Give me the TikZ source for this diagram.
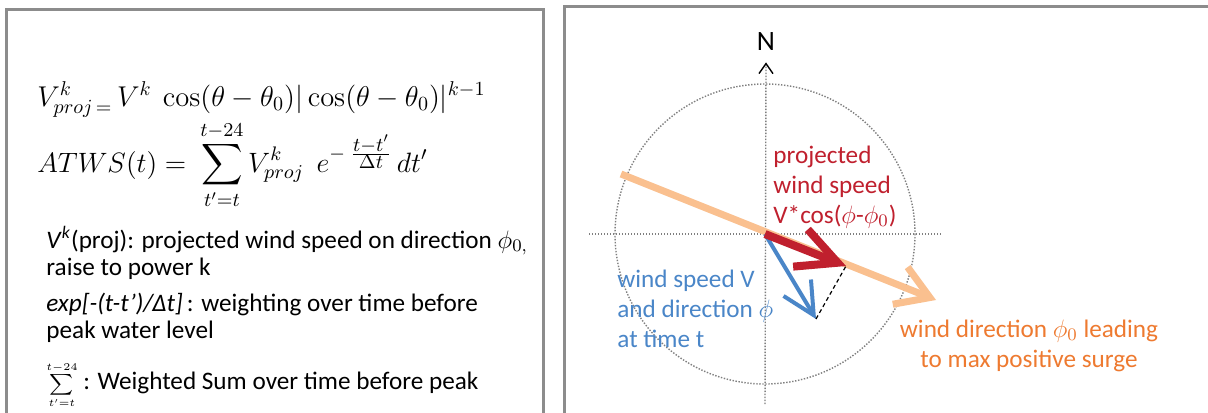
\documentclass[tikz,border=0pt]{standalone}
\usepackage{fix-cm}
\usepackage[no-math]{fontspec}
\setmainfont{Carlito}
\usepackage{amsmath}
\usetikzlibrary{arrows.meta}
\definecolor{panelgray}{HTML}{8C8C8C}
\definecolor{guidegray}{HTML}{7F7F7F}
\definecolor{projred}{HTML}{C0202E}
\definecolor{windblue}{HTML}{4A86C8}
\definecolor{surgeorange}{HTML}{EE7A30}
\definecolor{surgeline}{HTML}{FAC08F}

\begin{document}
\begin{tikzpicture}[x=0.5pt, y=-0.5pt]
    \tikzstyle{panel} = [draw=panelgray, line width=1.5pt]
    \tikzstyle{formula} = [anchor=base west, inner sep=0pt, font=\fontsize{14.3}{17}\selectfont]
    \tikzstyle{note} = [anchor=base west, inner sep=0pt, align=left, font=\fontsize{12.6}{13.5}\selectfont]
    \tikzstyle{label text} = [anchor=base west, inner sep=0pt, align=left, font=\fontsize{12.6}{15}\selectfont]
    \tikzstyle{guide} = [draw=guidegray, line width=0.7pt, dash pattern=on 0.7pt off 0.8pt]
    \useasboundingbox (0,0) rectangle (1208,412);
    \fill[white] (0,0) rectangle (1208,412);

    % left panel: definitions
    \draw[panel] (6.5,430) -- (6.5,9.5) -- (543.5,9.5) -- (543.5,430);
    \node[formula] (projeq) at (37,106) {$V^{k}_{proj\,=}\,V^{k}\ \cos(\theta-\theta_0)|\cos(\theta-\theta_0)|^{k-1}$};
    \node[formula, font=\fontsize{14}{17}\selectfont] (atws) at (37,172) {$\displaystyle ATWS(t)=\ \sum_{t'=t}^{t-24}V^{k}_{proj}\ \ e^{-\;\frac{\scriptstyle t-t'}{\scriptstyle\Delta t}}\,dt'$};
    \node[note] (projnote) at (46,275) {\textit{V}\textsuperscript{\textit{k}}(proj): projected wind speed on direction $\phi_{0,}$\\raise to power k};
    \node[note] (expnote) at (46,338) {\textit{exp[-(t-t')/Δt]}\,: weighting over time before\\peak water level};
    \node[note] (sumnote) at (46,389) {{\fontsize{7.4}{8}\selectfont$\displaystyle\sum_{t'=t}^{t-24}$} : Weighted Sum over time before peak};

    % right panel: wind vectors
    \draw[panel] (564,430) -- (564,6.5) -- (1220,6.5);
    \coordinate (O) at (765,234);
    \coordinate (westend) at (589,234);
    \coordinate (eastend) at (942,234);
    \coordinate (southend) at (765,404);
    \coordinate (orangestart) at (621,174);
    \coordinate (orangetip) at (936,300);
    \coordinate (bluetip) at (816,319);
    \coordinate (redtip) at (846,266);
    \node[inner sep=5.5pt, font=\fontsize{14}{14}\selectfont] (north) at (766,42) {N};
    \draw[guide] (O) circle [radius=150];
    \draw[guide] (westend) -- (eastend);
    \draw[guide, -{Straight Barb[length=5pt, width=7pt, color=black, line width=0.7pt]}] (southend) -- (north.south);
    \draw[surgeline, line width=3.5pt, -{Straight Barb[length=16pt, width=20pt]}] (orangestart) -- (orangetip);
    \draw[windblue, line width=2pt, -{Straight Barb[length=16pt, width=16pt]}] (O) -- (bluetip);
    \draw[projred, line width=4pt, -{Straight Barb[length=20pt, width=20pt]}] (O) -- (redtip);
    \draw[black, line width=0.6pt, dash pattern=on 2pt off 1.5pt] (bluetip) -- (redtip);
    \node[label text, text=projred] (projlabel) at (773,223) {projected\\wind speed\\V*cos($\phi$-$\phi_0$)};
    \node[label text, text=windblue] (windlabel) at (617,347) {wind speed V\\and direction $\phi$\\at time t};
    \node[label text, text=surgeorange, align=center, anchor=base] (surgelabel) at (1029,367) {wind direction $\phi_0$ leading\\to max positive surge};
\end{tikzpicture}
\end{document}
